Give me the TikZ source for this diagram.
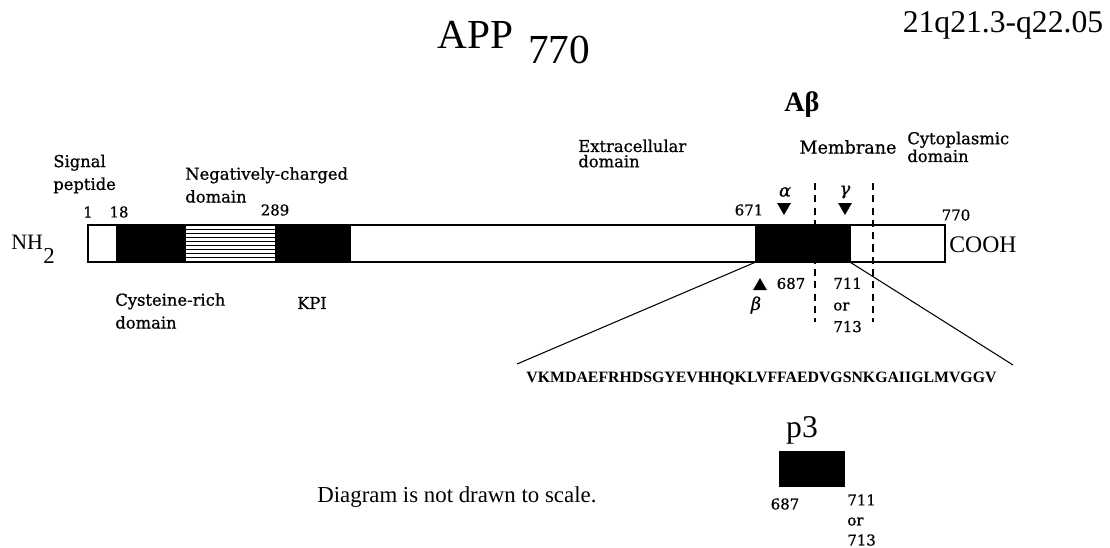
\documentclass[tikz,border=0pt]{standalone}
\usepackage{fontspec}
\setmainfont{Liberation Serif}
\newfontfamily\lblfont[FakeBold=0.8]{DejaVu Serif}
\usetikzlibrary{
  positioning,
  shapes.geometric,
  calc,
}

\begin{document}
\begin{tikzpicture}[
  x=0.02cm, y=-0.02cm,
  seg/.style={draw, line width=0.9pt, minimum height=0.74cm, inner sep=0pt, outer sep=0pt, anchor=west},
  lbl/.style={font=\lblfont\fontsize{9.3}{13}\selectfont, align=left, inner sep=0pt, anchor=west},
  num/.style={font=\lblfont\fontsize{8.5}{12}\selectfont, inner sep=0pt},
  greek/.style={font=\lblfont\itshape\fontsize{10}{12}\selectfont, inner sep=0pt},
  big/.style={inner sep=0pt, anchor=base west},
  tri/.style={regular polygon, regular polygon sides=3, fill=black, minimum size=0.32cm, inner sep=0pt},
  cut/.style={line width=1.1pt, dash pattern=on 4pt off 3pt},
]
  \useasboundingbox (0,0) rectangle (1110,548);

  % Title and locus
  \node[big, font=\fontsize{23.5}{26}\selectfont] (app) at (437,48) {APP};
  \node[big, font=\fontsize{23.5}{26}\selectfont] (appsub) at (528,63) {770};
  \node[inner sep=0pt, anchor=base, font=\fontsize{18}{20}\selectfont] (locus) at (1003,32) {21q21.3-q22.05};

  % Protein bar
  \node[seg, minimum width=0.58cm] (sig) at (88,243.5) {};
  \node[seg, fill=black, minimum width=1.36cm, right=0pt of sig] (cys) {};
  \node[seg, minimum width=1.82cm, right=0pt of cys] (neg) {};
  \node[seg, fill=black, minimum width=1.48cm, right=0pt of neg] (kpi) {};
  \node[seg, minimum width=8.12cm, right=0pt of kpi] (ext) {};
  \node[seg, fill=black, minimum width=1.88cm, right=0pt of ext] (ab) {};
  \node[seg, minimum width=1.9cm, right=0pt of ab] (cyt) {};
  \foreach \k in {1,...,8}
    \draw[line width=0.6pt] ($(neg.north west)!\k/9!(neg.south west)$) -- ($(neg.north east)!\k/9!(neg.south east)$);

  % Ends
  \node[big, font=\fontsize{12.5}{14}\selectfont] (nh) at (11,249) {NH};
  \node[big, font=\fontsize{13}{15}\selectfont] (nhsub) at (43,263) {2};
  \node[big, font=\fontsize{13.5}{15}\selectfont] (cooh) at (949,252) {COOH};

  % Domain labels
  \node[lbl] (sigl) at (53,174) {Signal\\peptide};
  \node[lbl] (negl) at (185,185) {Negatively-charged\\domain};
  \node[lbl] (cysl) at (115,311) {Cysteine-rich\\domain};
  \node[lbl, anchor=center] (kpil) at (312,303) {KPI};
  \node[lbl, font=\lblfont\fontsize{9.3}{8.7}\selectfont] (extl) at (578,153.5) {Extracellular\\domain};
  \node[lbl, font=\lblfont\fontsize{9.3}{8.7}\selectfont] (cytl) at (907,147) {Cytoplasmic\\domain};
  \node[lbl, anchor=center, font=\lblfont\fontsize{10}{12}\selectfont] (meml) at (848,147) {Membrane};
  \node[inner sep=0pt, font=\bfseries\fontsize{16}{18}\selectfont] (abl) at (802,105) {Aβ};

  % Residue numbers
  \node[num] (n1) at (88,212) {1};
  \node[num] (n18) at (119,212) {18};
  \node[num] (n289) at (275,210) {289};
  \node[num] (n671) at (749,210) {671};
  \node[num] (n770) at (956,215) {770};
  \node[num] (n687) at (791,283.5) {687};
  \node[num, anchor=west, align=left, font=\lblfont\fontsize{8.5}{12.3}\selectfont] (n711) at (833,305) {711\\or\\713};

  % Membrane borders
  \coordinate (inTop) at (815,183);
  \coordinate (inBot) at (815,322);
  \coordinate (outTop) at (873,183);
  \coordinate (outBot) at (873,322);
  \draw[cut] (inTop) -- (inBot);
  \draw[cut] (outTop) -- (outBot);

  % Secretase sites
  \node[tri, shape border rotate=180] (alphacut) at (784,207) {};
  \node[tri, shape border rotate=180] (gammacut) at (845,207) {};
  \node[tri] (betacut) at (760,286) {};
  \node[greek] (alpha) at (785,192) {α};
  \node[greek] (gamma) at (845,192) {γ};
  \node[greek] (beta) at (756,305) {β};

  % Sequence of the Abeta region
  \coordinate (seqL) at (517,364);
  \coordinate (seqR) at (1013,365);
  \draw[line width=0.6pt] (ab.south west) -- (seqL);
  \draw[line width=0.6pt] (ab.south east) -- (seqR);
  \node[inner sep=0pt, font=\bfseries\fontsize{9}{11}\selectfont] (seq) at (761.5,379) {VKMDAEFRHDSGYEVHHQKLVFFAEDVGSNKGAIIGLMVGGV};

  % p3 fragment
  \node[inner sep=0pt, font=\fontsize{18}{20}\selectfont] (p3l) at (802,430) {p3};
  \node[fill=black, minimum width=1.32cm, minimum height=0.72cm, inner sep=0pt] (p3) at (812,469) {};
  \node[num] (p687) at (785,504) {687};
  \node[num, anchor=west, align=left, font=\lblfont\fontsize{8.5}{11.4}\selectfont] (p711) at (847,520) {711\\or\\713};

  \node[big, font=\fontsize{13}{15}\selectfont] (note) at (317,502) {Diagram is not drawn to scale.};
\end{tikzpicture}
\end{document}
